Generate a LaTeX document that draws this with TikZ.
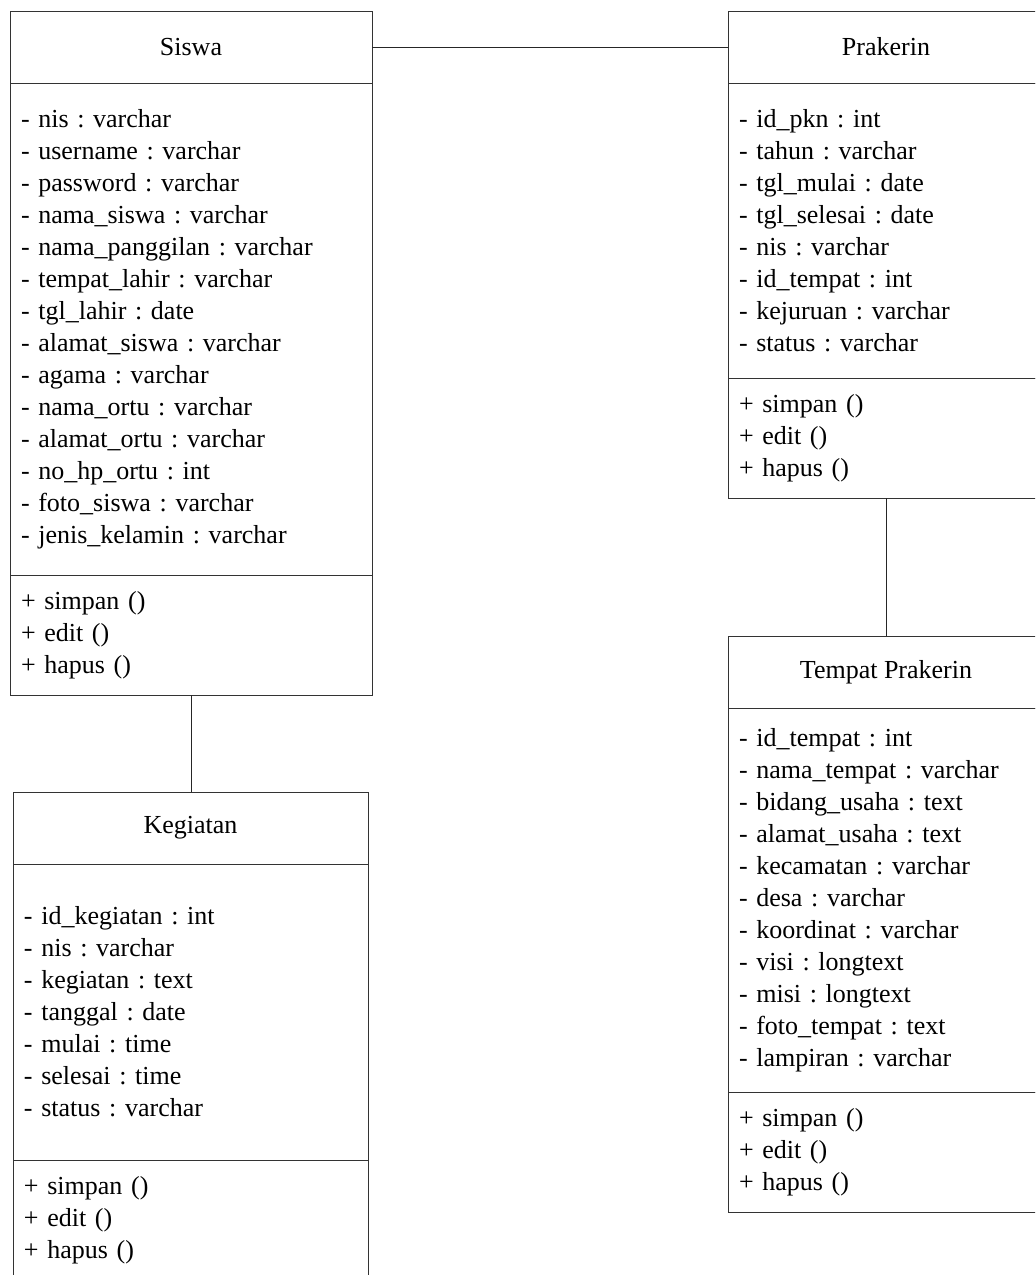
\documentclass[tikz,border=0pt]{standalone}
\usepackage{fontspec}
\setmainfont{Liberation Serif}
\usetikzlibrary{positioning}
\frenchspacing

\begin{document}
\begin{tikzpicture}[
        x=0.5pt, y=-0.5pt,
        font=\fontsize{13}{16}\selectfont,
        title/.style={rectangle, draw=black!80, line width=0.5pt, outer sep=0pt, inner sep=0pt, minimum height=36pt, anchor=north west},
        attrs/.style={rectangle, draw=black!80, line width=0.5pt, outer sep=0pt, inner xsep=5.5pt, inner ysep=0pt, align=left},
        conn/.style={draw=black!85, line width=0.5pt}
    ]
    \useasboundingbox (0,0) rectangle (1035,1275);
    \clip (0,0) rectangle (1035,1275);

    % Siswa
    \node[title, minimum width=181pt] (siswa) at (10,11) {Siswa};
    \node[attrs, text width=170pt, minimum height=246pt, below=0pt of siswa] (siswaAttr) {- nis : varchar\\- username : varchar\\- password : varchar\\- nama\_siswa : varchar\\- nama\_panggilan : varchar\\- tempat\_lahir : varchar\\- tgl\_lahir : date\\- alamat\_siswa : varchar\\- agama : varchar\\- nama\_ortu : varchar\\- alamat\_ortu : varchar\\- no\_hp\_ortu : int\\- foto\_siswa : varchar\\- jenis\_kelamin : varchar};
    \node[attrs, text width=170pt, minimum height=60pt, below=0pt of siswaAttr] (siswaOp) {+ simpan ()\\+ edit ()\\+ hapus ()};

    % Prakerin
    \node[title, minimum width=158pt] (prakerin) at (728,11) {Prakerin};
    \node[attrs, text width=147pt, minimum height=147.5pt, below=0pt of prakerin] (prakerinAttr) {- id\_pkn : int\\- tahun : varchar\\- tgl\_mulai : date\\- tgl\_selesai : date\\- nis : varchar\\- id\_tempat : int\\- kejuruan : varchar\\- status : varchar};
    \node[attrs, text width=147pt, minimum height=60pt, below=0pt of prakerinAttr] (prakerinOp) {+ simpan ()\\+ edit ()\\+ hapus ()};

    % Tempat Prakerin
    \node[title, minimum width=158pt] (tempat) at (728,636) {Tempat Prakerin};
    \node[attrs, text width=147pt, minimum height=192pt, below=0pt of tempat] (tempatAttr) {- id\_tempat : int\\- nama\_tempat : varchar\\- bidang\_usaha : text\\- alamat\_usaha : text\\- kecamatan : varchar\\- desa : varchar\\- koordinat : varchar\\- visi : longtext\\- misi : longtext\\- foto\_tempat : text\\- lampiran : varchar};
    \node[attrs, text width=147pt, minimum height=60pt, below=0pt of tempatAttr] (tempatOp) {+ simpan ()\\+ edit ()\\+ hapus ()};

    % Kegiatan
    \node[title, minimum width=177.5pt] (kegiatan) at (13,792) {Kegiatan};
    \node[attrs, text width=166.5pt, minimum height=148pt, below=0pt of kegiatan] (kegiatanAttr) {- id\_kegiatan : int\\- nis : varchar\\- kegiatan : text\\- tanggal : date\\- mulai : time\\- selesai : time\\- status : varchar};
    \node[attrs, text width=166.5pt, minimum height=60pt, below=0pt of kegiatanAttr] (kegiatanOp) {+ simpan ()\\+ edit ()\\+ hapus ()};

    % Relasi
    \draw[conn] (siswa.east) -- (prakerin.west);
    \draw[conn] (siswaOp.south) -- (siswaOp.south |- kegiatan.north);
    \draw[conn] (prakerinOp.south) -- (tempat.north);
\end{tikzpicture}
\end{document}
